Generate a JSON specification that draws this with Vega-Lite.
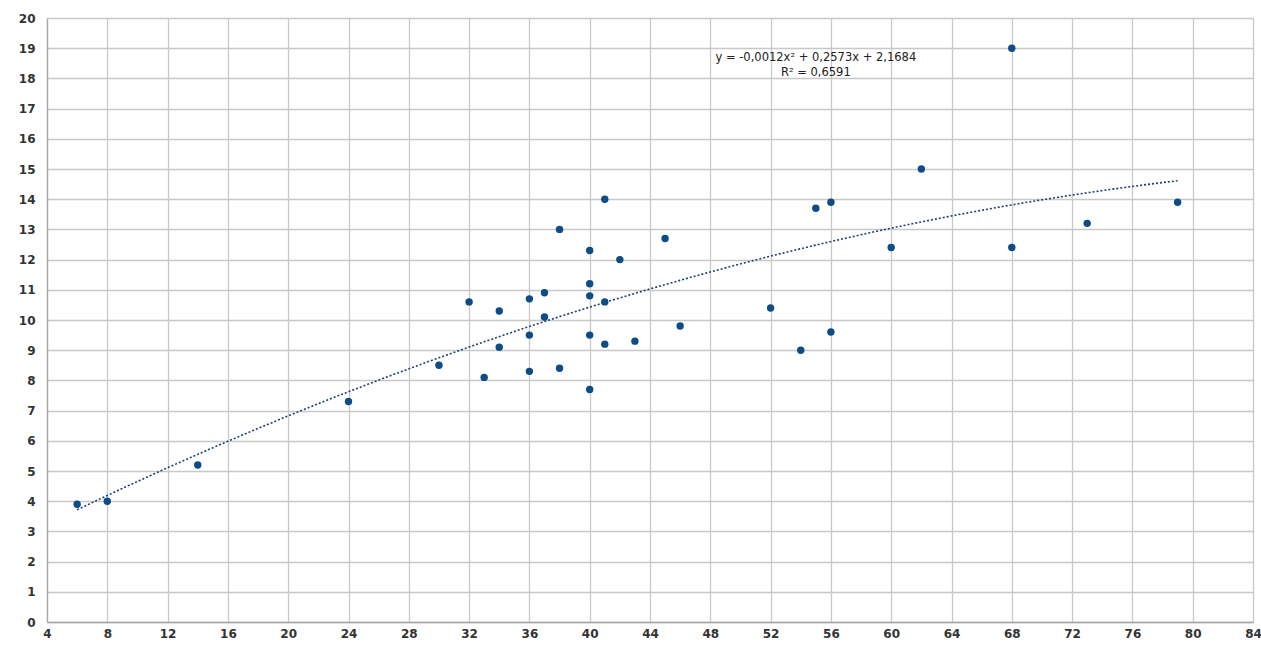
{
  "$schema": "https://vega.github.io/schema/vega-lite/v6.json",
  "width": 1206,
  "height": 604,
  "autosize": {"type": "none"},
  "padding": {"left": 47, "top": 18, "right": 8, "bottom": 24},
  "background": "white",
  "config": {
    "view": {"stroke": null},
    "font": "DejaVu Sans"
  },
  "data": {
    "values": [
      {"x": 6, "y": 3.9}, {"x": 8, "y": 4.0}, {"x": 14, "y": 5.2}, {"x": 24, "y": 7.3},
      {"x": 30, "y": 8.5}, {"x": 32, "y": 10.6}, {"x": 33, "y": 8.1}, {"x": 34, "y": 10.3},
      {"x": 34, "y": 9.1}, {"x": 36, "y": 10.7}, {"x": 36, "y": 9.5}, {"x": 36, "y": 8.3},
      {"x": 37, "y": 10.9}, {"x": 37, "y": 10.1}, {"x": 38, "y": 13.0}, {"x": 38, "y": 8.4},
      {"x": 40, "y": 12.3}, {"x": 40, "y": 11.2}, {"x": 40, "y": 10.8}, {"x": 40, "y": 9.5},
      {"x": 40, "y": 7.7}, {"x": 41, "y": 14.0}, {"x": 41, "y": 10.6}, {"x": 41, "y": 9.2},
      {"x": 42, "y": 12.0}, {"x": 43, "y": 9.3}, {"x": 45, "y": 12.7}, {"x": 46, "y": 9.8},
      {"x": 52, "y": 10.4}, {"x": 54, "y": 9.0}, {"x": 55, "y": 13.7}, {"x": 56, "y": 13.9},
      {"x": 56, "y": 9.6}, {"x": 60, "y": 12.4}, {"x": 62, "y": 15.0}, {"x": 68, "y": 19.0},
      {"x": 68, "y": 12.4}, {"x": 73, "y": 13.2}, {"x": 79, "y": 13.9}
    ]
  },
  "layer": [
    {
      "transform": [
        {"regression": "y", "on": "x", "method": "poly", "order": 2, "extent": [6, 79]}
      ],
      "mark": {"type": "line", "color": "#1f3f73", "strokeWidth": 1.6, "strokeDash": [2, 2]},
      "encoding": {
        "x": {"field": "x", "type": "quantitative"},
        "y": {"field": "y", "type": "quantitative"}
      }
    },
    {
      "mark": {"type": "point", "filled": true, "color": "#0d4c86", "opacity": 1, "size": 55},
      "encoding": {
        "x": {
          "field": "x", "type": "quantitative",
          "scale": {"domain": [4, 84], "nice": false, "zero": false},
          "axis": {
            "values": [4, 8, 12, 16, 20, 24, 28, 32, 36, 40, 44, 48, 52, 56, 60, 64, 68, 72, 76, 80, 84],
            "tickCount": 40, "format": "d",
            "title": null, "ticks": false, "labelPadding": 6, "labelOverlap": false,
            "labelFontSize": 12, "labelColor": "#333333", "labelFontWeight": "bold",
            "gridColor": "#c8c8c8", "gridWidth": 1.3, "domainColor": "#a6a6a6", "domainWidth": 1.3,
            "labelFlush": false
          }
        },
        "y": {
          "field": "y", "type": "quantitative",
          "scale": {"domain": [0, 20], "nice": false},
          "axis": {
            "values": [0, 1, 2, 3, 4, 5, 6, 7, 8, 9, 10, 11, 12, 13, 14, 15, 16, 17, 18, 19, 20],
            "tickCount": 40, "format": "d",
            "title": null, "ticks": false, "labelPadding": 12, "labelOverlap": false,
            "labelFontSize": 12, "labelColor": "#333333", "labelFontWeight": "bold",
            "gridColor": "#c8c8c8", "gridWidth": 1.3, "domainColor": "#a6a6a6", "domainWidth": 1.3
          }
        }
      }
    },
    {
      "data": {"values": [{}]},
      "mark": {"type": "text", "fontSize": 11.5, "color": "#222222", "align": "center", "baseline": "middle"},
      "encoding": {
        "x": {"datum": 55.0},
        "y": {"datum": 18.68},
        "text": {"value": "y = -0,0012x² + 0,2573x + 2,1684"}
      }
    },
    {
      "data": {"values": [{}]},
      "mark": {"type": "text", "fontSize": 11.5, "color": "#222222", "align": "center", "baseline": "middle"},
      "encoding": {
        "x": {"datum": 55.0},
        "y": {"datum": 18.17},
        "text": {"value": "R² = 0,6591"}
      }
    }
  ]
}
